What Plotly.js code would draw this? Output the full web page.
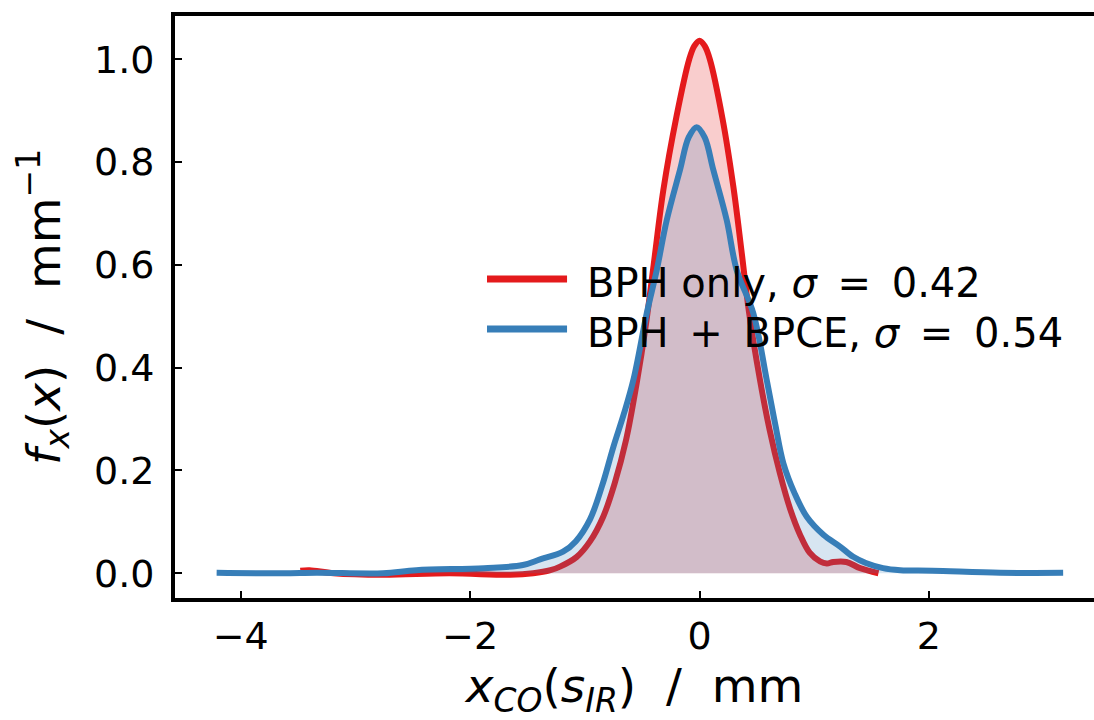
<!DOCTYPE html>
<html>
<head>
<meta charset="utf-8">
<script src="https://cdn.plot.ly/plotly-3.0.1.min.js"></script>
<style>html,body{margin:0;padding:0;background:#fff;overflow:hidden}</style>
</head>
<body>
<div id="chart" style="width:1094px;height:720px"></div>
<script>
// Series names (legend labels)
const seriesNames = ["BPH only, <i>σ</i> \u2009=\u2009 0.42", "BPH \u2009+\u2009 BPCE, <i>σ</i> \u2009=\u2009 0.54"];

// BPH only (red)
const redX = [-3.48,-3.40,-3.19,-2.76,-2.18,-1.65,-1.45,-1.30,-1.216,-1.07,-0.955,-0.84,-0.74,-0.64,-0.548,-0.47,-0.40,-0.316,-0.20,-0.09,-0.045,0.0,0.045,0.09,0.20,0.295,0.368,0.43,0.527,0.61,0.70,0.79,0.876,0.96,1.05,1.11,1.166,1.28,1.40,1.56];
const redY = [0.005,0.006,0.0,-0.003,0.0,-0.003,0.0,0.006,0.013,0.032,0.062,0.11,0.175,0.26,0.37,0.48,0.60,0.745,0.89,1.0,1.026,1.036,1.026,1.0,0.885,0.752,0.623,0.51,0.376,0.28,0.195,0.125,0.075,0.04,0.023,0.019,0.022,0.022,0.010,0.0];

// BPH + BPCE (blue)
const blueX = [-4.21,-3.63,-3.34,-2.76,-2.47,-1.88,-1.54,-1.39,-1.19,-1.08,-0.955,-0.85,-0.751,-0.66,-0.577,-0.46,-0.373,-0.286,-0.17,-0.095,-0.025,0.045,0.12,0.237,0.324,0.469,0.586,0.66,0.731,0.83,0.935,1.08,1.225,1.34,1.45,1.6,1.75,2.03,2.62,3.17];
const blueY = [0.001,0.0,0.001,0.0,0.006,0.010,0.016,0.027,0.042,0.062,0.105,0.17,0.246,0.31,0.376,0.506,0.59,0.687,0.785,0.848,0.868,0.848,0.785,0.687,0.59,0.506,0.376,0.29,0.214,0.155,0.11,0.075,0.052,0.032,0.02,0.01,0.006,0.005,0.001,0.001];

// Tick values
const xTicks = [-4, -2, 0, 2];
const yTicks = [0.0, 0.2, 0.4, 0.6, 0.8, 1.0];

const RED = "#e41a1c", BLUE = "#377eb8";
const FONT = "DejaVu Sans";

const traces = [
  {x: redX, y: redY, type: "scatter", mode: "lines", name: seriesNames[0],
   line: {color: RED, width: 6, shape: "spline", smoothing: 1},
   fill: "tozeroy", fillcolor: "rgba(228,26,28,0.22)", showlegend: false},
  {x: blueX, y: blueY, type: "scatter", mode: "lines", name: seriesNames[1],
   line: {color: BLUE, width: 6, shape: "spline", smoothing: 1},
   fill: "tozeroy", fillcolor: "rgba(55,126,184,0.2)", showlegend: false}
];

const axisCommon = {
  showline: true, linecolor: "#000", linewidth: 4,
  ticks: "inside", ticklen: 7, tickwidth: 2, tickcolor: "#000",
  showgrid: false, zeroline: false,
  tickfont: {family: FONT, size: 38, color: "#000"}
};

const layout = {
  width: 1094, height: 720,
  margin: {l: 175, r: 0, t: 16, b: 122, pad: 0},
  paper_bgcolor: "#fff", plot_bgcolor: "#fff",
  showlegend: false,
  xaxis: Object.assign({}, axisCommon, {
    range: [-4.573, 3.439], tickvals: xTicks, mirror: true,
    ticklabelstandoff: 1,
    title: {text: "<i>x<sub>CO</sub></i>(<i>s<sub>IR</sub></i>)  /  mm",
            font: {family: FONT, size: 47, color: "#000"}, standoff: 26}
  }),
  yaxis: Object.assign({}, axisCommon, {
    range: [-0.0481, 1.0843], tickvals: yTicks, tickformat: ".1f",
    ticklabelstandoff: 9,
    title: {text: "<i>f<sub>x</sub></i>(<i>x</i>)  /  mm<sup>−1</sup>",
            font: {family: FONT, size: 47, color: "#000"}, standoff: 20}
  }),
  shapes: [
    {type: "line", xref: "paper", yref: "paper", x0: 0.3395, x1: 0.4266, y0: 0.5481, y1: 0.5481,
     line: {color: RED, width: 7}},
    {type: "line", xref: "paper", yref: "paper", x0: 0.3395, x1: 0.4266, y0: 0.4622, y1: 0.4622,
     line: {color: BLUE, width: 7}}
  ],
  annotations: [
    {xref: "paper", yref: "paper", x: 0.4461, y: 0.542, xanchor: "left", yanchor: "middle",
     text: seriesNames[0], showarrow: false, font: {family: FONT, size: 40, color: "#000"}},
    {xref: "paper", yref: "paper", x: 0.4461, y: 0.456, xanchor: "left", yanchor: "middle",
     text: seriesNames[1], showarrow: false, font: {family: FONT, size: 40, color: "#000"}}
  ]
};

Plotly.newPlot("chart", traces, layout, {displayModeBar: false, staticPlot: true});
</script>
</body>
</html>
